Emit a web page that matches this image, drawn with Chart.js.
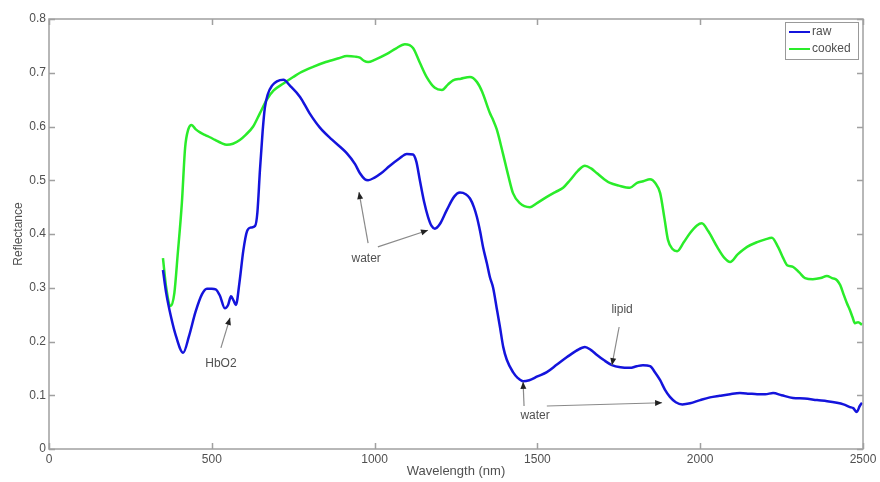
<!DOCTYPE html>
<html>
<head>
<meta charset="utf-8">
<script src="https://cdn.jsdelivr.net/npm/chart.js@4.4.1/dist/chart.umd.min.js"></script>
<style>
    html, body { margin: 0; padding: 0; background: #fff; }
    #chart { display: block; }
</style>
</head>
<body>
<canvas id="chart" width="880" height="482"></canvas>
<script>
// Spectra (wavelength in nm, reflectance)
const rawWavelength = [350, 360, 375, 390, 412, 430, 450, 470, 485, 500, 512, 525, 540, 550, 559, 567, 574, 585, 597, 608,
    620, 633, 640, 648, 656, 663, 672, 685, 700, 720, 740, 771, 800, 832, 870, 915, 940, 955, 970, 980,
    1000, 1020, 1047, 1075, 1099, 1118, 1128, 1139, 1152, 1164, 1175, 1185, 1200, 1222, 1245, 1262, 1280, 1293, 1305, 1314,
    1324, 1333, 1345, 1354, 1364, 1375, 1385, 1395, 1406, 1425, 1440, 1456, 1475, 1500, 1529, 1560, 1591, 1620, 1646, 1665,
    1683, 1705, 1729, 1755, 1784, 1805, 1824, 1846, 1862, 1877, 1892, 1907, 1925, 1945, 1969, 2000, 2030, 2060, 2092, 2122,
    2150, 2175, 2200, 2224, 2250, 2285, 2320, 2359, 2390, 2420, 2440, 2460, 2470, 2481, 2490, 2497];
const rawReflectance = [0.333, 0.29, 0.245, 0.21, 0.179, 0.21, 0.255, 0.288, 0.298, 0.298, 0.297, 0.285, 0.262, 0.268, 0.284, 0.276, 0.268, 0.31, 0.37, 0.405,
    0.412, 0.415, 0.44, 0.52, 0.59, 0.635, 0.66, 0.676, 0.684, 0.687, 0.676, 0.655, 0.625, 0.598, 0.575, 0.55, 0.53, 0.513, 0.502, 0.50,
    0.505, 0.513, 0.527, 0.54, 0.549, 0.548, 0.535, 0.50, 0.46, 0.432, 0.415, 0.41, 0.418, 0.445, 0.47, 0.477, 0.474, 0.466, 0.45, 0.432,
    0.405, 0.376, 0.345, 0.32, 0.30, 0.262, 0.227, 0.19, 0.166, 0.143, 0.132, 0.126, 0.128, 0.135, 0.143, 0.157, 0.171, 0.183, 0.19, 0.184,
    0.175, 0.165, 0.156, 0.152, 0.151, 0.154, 0.156, 0.154, 0.142, 0.128, 0.11, 0.097, 0.087, 0.083, 0.085, 0.091, 0.096, 0.099, 0.102, 0.104,
    0.103, 0.102, 0.102, 0.104, 0.100, 0.095, 0.094, 0.091, 0.089, 0.086, 0.083, 0.078, 0.076, 0.069, 0.08, 0.086];

const cookedWavelength = [350, 360, 374, 385, 395, 408, 418, 428, 438, 450, 464, 480, 494, 510, 530, 546, 565, 586, 605, 627,
    648, 669, 690, 720, 750, 771, 811, 850, 890, 915, 940, 955, 968, 980, 1000, 1038, 1065, 1093, 1118, 1138,
    1160, 1185, 1207, 1225, 1241, 1265, 1293, 1314, 1330, 1354, 1364, 1375, 1394, 1410, 1425, 1445, 1477, 1500, 1529, 1555,
    1579, 1600, 1625, 1646, 1665, 1683, 1705, 1723, 1750, 1784, 1806, 1825, 1846, 1862, 1877, 1890, 1901, 1915, 1929, 1950,
    1969, 1990, 2005, 2025, 2052, 2075, 2092, 2115, 2144, 2175, 2200, 2220, 2239, 2255, 2267, 2285, 2305, 2322, 2346, 2370,
    2389, 2405, 2420, 2430, 2439, 2450, 2460, 2468, 2475, 2485, 2497];
const cookedReflectance = [0.355, 0.30, 0.266, 0.29, 0.36, 0.457, 0.56, 0.595, 0.603, 0.595, 0.589, 0.584, 0.58, 0.575, 0.569, 0.566, 0.568, 0.575, 0.585, 0.60,
    0.625, 0.65, 0.667, 0.68, 0.692, 0.70, 0.711, 0.72, 0.727, 0.731, 0.73, 0.728, 0.722, 0.72, 0.724, 0.735, 0.745, 0.753, 0.746, 0.72,
    0.692, 0.672, 0.668, 0.678, 0.686, 0.689, 0.692, 0.683, 0.665, 0.625, 0.612, 0.595, 0.55, 0.51, 0.476, 0.458, 0.45, 0.458, 0.469, 0.478,
    0.486, 0.50, 0.518, 0.527, 0.522, 0.513, 0.502, 0.495, 0.49, 0.486, 0.495, 0.498, 0.502, 0.495, 0.476, 0.43, 0.389, 0.372, 0.368, 0.385,
    0.402, 0.416, 0.42, 0.405, 0.376, 0.355, 0.348, 0.362, 0.376, 0.385, 0.39, 0.393, 0.376, 0.355, 0.342, 0.339, 0.328, 0.318, 0.316, 0.318,
    0.322, 0.318, 0.314, 0.305, 0.29, 0.272, 0.258, 0.245, 0.234, 0.236, 0.231];

const xTicks = [0, 500, 1000, 1500, 2000, 2500];
const yTicks = [0, 0.1, 0.2, 0.3, 0.4, 0.5, 0.6, 0.7, 0.8];

// Text notes with arrows, in data units: label position, then [tail, head] of each arrow
const noteText = ['HbO2', 'water', 'water', 'lipid'];
const notePos = [[528, 0.158], [974, 0.355], [1493, 0.062], [1760, 0.259]];
const noteArrows = [
    [[[528, 0.188], [556, 0.244]]],
    [[[980, 0.383], [952, 0.478]], [[1010, 0.376], [1164, 0.407]]],
    [[[1459, 0.08], [1456, 0.125]], [[1529, 0.08], [1883, 0.086]]],
    [[[1751, 0.227], [1729, 0.156]]]
];

const FONT = '"Liberation Sans", Arial, sans-serif';
const AXIS_GRAY = '#a0a0a0';
const TEXT_GRAY = '#505050';

function toPoints(xs, ys) {
    return xs.map((x, i) => ({x: x, y: ys[i]}));
}

// Draw the matlab style box, inward ticks on all four sides and the legend
const boxPlugin = {
    id: 'boxPlugin',
    afterDraw: (chart) => {
        const ctx = chart.ctx;
        const a = chart.chartArea;
        const xs = chart.scales.x, ys = chart.scales.y;
        ctx.save();
        ctx.strokeStyle = AXIS_GRAY;
        ctx.lineWidth = 1.5;
        ctx.strokeRect(a.left, a.top, a.right - a.left, a.bottom - a.top);
        ctx.beginPath();
        for (const t of xTicks) {
            let px = Math.round(xs.getPixelForValue(t)) + 0.5;
            ctx.moveTo(px, a.bottom); ctx.lineTo(px, a.bottom - 6);
            ctx.moveTo(px, a.top); ctx.lineTo(px, a.top + 6);
        }
        for (const t of yTicks) {
            let py = Math.round(ys.getPixelForValue(t)) + 0.5;
            ctx.moveTo(a.left, py); ctx.lineTo(a.left + 6, py);
            ctx.moveTo(a.right, py); ctx.lineTo(a.right - 6, py);
        }
        ctx.stroke();

        // legend box, top right inside the plot
        const lw = 73, lh = 37;
        const lx = a.right - lw - 5, ly = a.top + 3;
        ctx.fillStyle = '#fff';
        ctx.fillRect(lx, ly, lw, lh);
        ctx.lineWidth = 1;
        ctx.strokeStyle = '#999';
        ctx.strokeRect(lx + 0.5, ly + 0.5, lw, lh);
        ctx.font = '12px ' + FONT;
        ctx.textBaseline = 'middle';
        chart.data.datasets.forEach((ds, i) => {
            let yy = ly + 10 + i * 17;
            ctx.strokeStyle = ds.borderColor;
            ctx.lineWidth = 2;
            ctx.beginPath();
            ctx.moveTo(lx + 4, yy); ctx.lineTo(lx + 25, yy);
            ctx.stroke();
            ctx.fillStyle = TEXT_GRAY;
            ctx.fillText(ds.label, lx + 27, yy);
        });

        // notes and arrows
        ctx.font = '12px ' + FONT;
        ctx.textAlign = 'center';
        ctx.textBaseline = 'middle';
        noteText.forEach((txt, i) => {
            ctx.fillStyle = TEXT_GRAY;
            ctx.fillText(txt, xs.getPixelForValue(notePos[i][0]), ys.getPixelForValue(notePos[i][1]));
            for (const arr of noteArrows[i]) {
                let x1 = xs.getPixelForValue(arr[0][0]), y1 = ys.getPixelForValue(arr[0][1]);
                let x2 = xs.getPixelForValue(arr[1][0]), y2 = ys.getPixelForValue(arr[1][1]);
                ctx.strokeStyle = '#8a8a8a';
                ctx.lineWidth = 1.2;
                ctx.beginPath();
                ctx.moveTo(x1, y1); ctx.lineTo(x2, y2);
                ctx.stroke();
                let ang = Math.atan2(y2 - y1, x2 - x1);
                ctx.fillStyle = '#222';
                ctx.beginPath();
                ctx.moveTo(x2, y2);
                ctx.lineTo(x2 - 7 * Math.cos(ang) + 3 * Math.sin(ang), y2 - 7 * Math.sin(ang) - 3 * Math.cos(ang));
                ctx.lineTo(x2 - 7 * Math.cos(ang) - 3 * Math.sin(ang), y2 - 7 * Math.sin(ang) + 3 * Math.cos(ang));
                ctx.closePath();
                ctx.fill();
            }
        });
        ctx.restore();
    }
};

new Chart(document.getElementById('chart'), {
    type: 'line',
    data: {
        datasets: [
            {label: 'raw', data: toPoints(rawWavelength, rawReflectance), borderColor: '#1414dc', borderWidth: 2.5,
                pointRadius: 0, cubicInterpolationMode: 'monotone', fill: false},
            {label: 'cooked', data: toPoints(cookedWavelength, cookedReflectance), borderColor: '#2aec2a', borderWidth: 2.5,
                pointRadius: 0, cubicInterpolationMode: 'monotone', fill: false}
        ]
    },
    options: {
        responsive: false,
        animation: false,
        events: [],
        layout: {padding: {left: 0, right: 17, top: 19, bottom: 0}},
        plugins: {legend: {display: false}, tooltip: {enabled: false}},
        scales: {
            x: {
                type: 'linear', min: 0, max: 2500,
                afterBuildTicks: (scale) => { scale.ticks = xTicks.map(v => ({value: v})); },
                afterFit: (scale) => { scale.height = 33; },
                grid: {display: false, drawTicks: false},
                border: {display: false},
                ticks: {color: TEXT_GRAY, font: {family: FONT, size: 12}, padding: 3, maxRotation: 0,
                    callback: (v) => String(v)},
                title: {display: true, text: 'Wavelength (nm)', color: TEXT_GRAY, font: {family: FONT, size: 13}, padding: {top: 0, bottom: 3}}
            },
            y: {
                type: 'linear', min: 0, max: 0.8,
                afterBuildTicks: (scale) => { scale.ticks = yTicks.map(v => ({value: v})); },
                afterFit: (scale) => { scale.width = 49; },
                grid: {display: false, drawTicks: false},
                border: {display: false},
                ticks: {color: TEXT_GRAY, font: {family: FONT, size: 12}, padding: 3,
                    callback: (v) => String(Math.round(v * 10) / 10)},
                title: {display: true, text: 'Reflectance', color: TEXT_GRAY, font: {family: FONT, size: 12}, padding: {top: 11, bottom: 0}}
            }
        }
    },
    plugins: [boxPlugin]
});
</script>
</body>
</html>
